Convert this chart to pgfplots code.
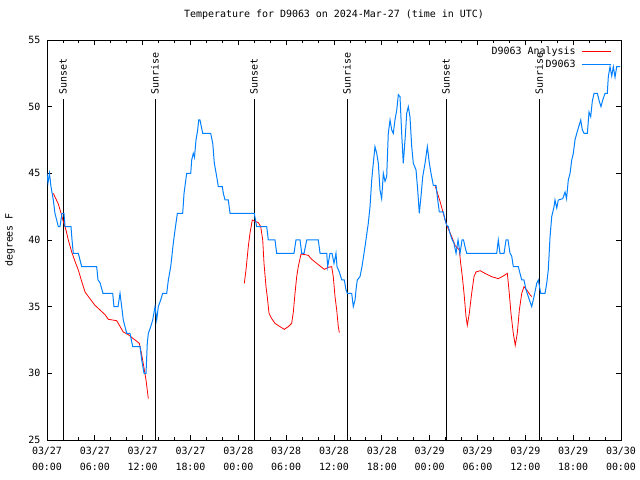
\documentclass[border=0pt]{standalone}
\usepackage{fontspec}
\setmainfont{DejaVu Sans Mono}
\usepackage{pgfplots}
\pgfplotsset{compat=1.18}
\definecolor{obsblue}{RGB}{0,128,255}

\begin{document}
\fontsize{10}{12}\selectfont
\begin{tikzpicture}
\path[use as bounding box] (0,0) rectangle (640bp,480bp);
\begin{axis}[
    at={(47bp,40bp)}, anchor=south west,
    scale only axis, width=574bp, height=400bp,
    xmin=0, xmax=72, ymin=25, ymax=55,
    xtick={0,6,...,72}, minor x tick num=2,
    ytick={25,30,...,55},
    xticklabels={{03/27\\00:00},{03/27\\06:00},{03/27\\12:00},{03/27\\18:00},
                 {03/28\\00:00},{03/28\\06:00},{03/28\\12:00},{03/28\\18:00},
                 {03/29\\00:00},{03/29\\06:00},{03/29\\12:00},{03/29\\18:00},
                 {03/30\\00:00}},
    tick align=inside,
    major tick length=5bp, minor tick length=3bp,
    tick style={black, line width=0.8bp},
    axis line style={line width=0.8bp},
    /pgf/number format/assume math mode=true,
    x tick label style={align=center, font=\fontsize{10}{16}\selectfont, yshift=-4bp},
    y tick label style={font=\fontsize{10}{12}\selectfont, xshift=-3bp},
    title={Temperature for D9063 on 2024-Mar-27 (time in UTC)},
    title style={at={(0.5,1)}, anchor=base, yshift=17bp, font=\fontsize{10}{12}\selectfont},
    ylabel={degrees F},
    ylabel style={at={(axis description cs:-0.0645,0.5)}, anchor=center, font=\fontsize{10}{12}\selectfont},
    legend style={draw=none, fill=none, at={(axis description cs:0.983,0.987)}, anchor=north east,
        font=\fontsize{10}{12}\selectfont, row sep=1bp, column sep=4bp, inner sep=0pt,
        nodes={inner sep=1.5bp}},
    legend plot pos=right,
    legend cell align=right,
    legend image code/.code={\draw[#1] (0bp,0bp) -- (29bp,0bp);},
]
% sunrise / sunset markers
\addplot[black, line width=0.8bp, forget plot] coordinates {(2.01,25) (2.01,50.6)};
\addplot[black, line width=0.8bp, forget plot] coordinates {(13.55,25) (13.55,50.6)};
\addplot[black, line width=0.8bp, forget plot] coordinates {(25.97,25) (25.97,50.6)};
\addplot[black, line width=0.8bp, forget plot] coordinates {(37.63,25) (37.63,50.6)};
\addplot[black, line width=0.8bp, forget plot] coordinates {(50.05,25) (50.05,50.6)};
\addplot[black, line width=0.8bp, forget plot] coordinates {(61.72,25) (61.72,50.6)};
\node[rotate=90, anchor=west, inner sep=0pt] at (axis cs:2.01,50.9) {Sunset};
\node[rotate=90, anchor=west, inner sep=0pt] at (axis cs:13.55,50.9) {Sunrise};
\node[rotate=90, anchor=west, inner sep=0pt] at (axis cs:25.97,50.9) {Sunset};
\node[rotate=90, anchor=west, inner sep=0pt] at (axis cs:37.63,50.9) {Sunrise};
\node[rotate=90, anchor=west, inner sep=0pt] at (axis cs:50.05,50.9) {Sunset};
\node[rotate=90, anchor=west, inner sep=0pt] at (axis cs:61.72,50.9) {Sunrise};

% analysis
\addplot[red, line width=0.8bp] coordinates {
(0.79,43.5) (1.42,42.7) (1.72,42.1) (2.04,41.4) (2.38,40.75) (2.67,40.0)
(3.10,39.1) (3.51,38.4) (3.93,37.75) (4.35,36.9) (4.77,36.1) (5.39,35.6)
(6.02,35.1) (6.65,34.75) (7.28,34.4) (7.69,34.05) (8.74,33.95) (9.57,33.1)
(10.20,32.9) (10.83,32.6) (11.58,32.25) (11.88,31.4) (12.17,30.4) (12.42,29.5)
(12.71,28.1)};
\addlegendentry{D9063 Analysis}
\addplot[red, line width=0.8bp, forget plot] coordinates {
(24.75,36.75) (24.96,37.75) (25.25,39.5) (25.46,40.5) (25.75,41.5) (26.09,41.4)
(26.51,41.3) (26.81,41.0) (27.06,40.0) (27.22,38.25) (27.47,36.5) (27.63,35.75)
(27.85,34.5) (28.19,34.1) (28.60,33.75) (29.23,33.5) (29.77,33.3) (30.27,33.5)
(30.69,33.75) (30.90,34.6) (31.11,36.0) (31.32,37.25) (31.52,38.0) (31.86,38.95)
(32.36,38.9) (32.78,38.85) (33.20,38.55) (33.83,38.25) (34.46,37.95) (34.78,37.8)
(35.29,37.95) (35.71,38.0) (35.91,37.25) (36.13,35.75) (36.34,34.75) (36.54,33.5)
(36.67,33.05)};
\addplot[red, line width=0.8bp, forget plot] coordinates {
(48.67,44.1) (49.30,42.9) (49.71,42.0) (50.14,41.1) (50.77,40.25) (51.18,39.6)
(51.72,39.25) (51.89,38.25) (52.10,37.25) (52.31,36.0) (52.56,34.25) (52.72,33.6)
(52.97,34.5) (53.27,36.0) (53.56,37.25) (53.81,37.6) (54.32,37.7) (54.94,37.5)
(55.78,37.25) (56.61,37.1) (57.24,37.3) (57.74,37.5) (57.95,36.25) (58.20,34.5)
(58.49,33.0) (58.74,32.1) (58.99,33.0) (59.25,34.75) (59.55,36.0) (59.83,36.5)
(60.18,36.25) (60.59,35.9) (60.80,35.75)};

% observations
\addplot[obsblue, line width=1bp] coordinates {
(0,45) (0.13,44.3) (0.31,45) (0.50,44) (0.79,43) (1.00,42) (1.42,41) (1.63,41)
(1.88,42) (2.13,42) (2.26,41) (3.01,41) (3.14,40) (3.30,39) (3.93,39) (4.35,38)
(6.23,38) (6.40,37) (6.65,36.8) (7.02,36) (8.24,36) (8.40,35) (8.91,35) (9.16,36)
(9.37,35) (9.57,34) (10.00,33) (10.41,33) (10.75,32) (11.67,32) (11.88,31)
(12.17,30) (12.42,30) (12.58,32.25) (12.71,33) (13.01,33.5) (13.26,34) (13.55,35)
(13.76,34) (13.96,35) (14.26,35.5) (14.51,36) (15.02,36) (15.22,37) (15.52,38)
(15.84,39.75) (16.06,40.75) (16.35,42) (17.02,42) (17.19,43.5) (17.52,45)
(18.03,45) (18.15,46) (18.35,46.5) (18.50,46.2) (18.69,47.5) (18.90,48.25)
(19.03,49) (19.19,49) (19.53,48) (20.53,48) (20.79,47.25) (20.99,45.75)
(21.29,44.75) (21.49,44) (21.99,44) (22.12,43.5) (22.33,43) (22.74,43) (22.96,42)
(26.00,42) (26.30,41) (27.56,41) (27.76,40) (28.60,40) (28.81,39) (30.98,39)
(31.23,40) (31.74,40) (31.95,39) (32.24,39) (32.58,40) (34.03,40) (34.25,39)
(35.09,39) (35.21,38) (35.50,39) (35.75,39) (36.00,38.25) (36.25,39) (36.38,38)
(36.67,37.6) (36.97,37) (37.29,37) (37.51,36.25) (37.67,36) (38.22,36) (38.42,35)
(38.64,35.5) (38.76,36.25) (38.92,37) (39.26,37.25) (39.51,38) (39.89,39.5)
(40.30,41.25) (40.52,42.5) (40.73,44.5) (40.93,45.75) (41.14,47) (41.36,46.5)
(41.56,45.75) (41.77,43.75) (41.98,43.1) (42.19,45) (42.40,44.4) (42.61,44.75)
(42.81,48) (43.03,49) (43.24,48.25) (43.44,48) (43.65,49) (43.87,49.75)
(44.07,50.9) (44.28,50.75) (44.49,48) (44.69,45.75) (44.91,47.5) (45.12,49.5)
(45.32,50) (45.53,49.25) (45.75,47) (45.95,45.75) (46.29,45.25) (46.50,43.75)
(46.70,42) (46.91,43.25) (47.13,44.75) (47.42,45.75) (47.71,47) (47.96,45.75)
(48.17,45) (48.46,44.1) (48.80,44.1) (48.96,43.25) (49.21,42.1) (49.71,42.1)
(49.93,41.5) (50.14,41.1) (50.34,41) (50.55,40.5) (50.77,40.1) (51.05,39.75)
(51.31,39) (51.56,40) (51.81,39) (52.06,40) (52.25,40) (52.43,39.5) (52.65,39)
(56.41,39) (56.61,40) (56.82,39) (57.33,39) (57.58,40) (57.83,40) (58.08,39)
(58.29,38.8) (58.49,38) (59.12,38) (59.33,37.5) (59.55,37) (59.83,37)
(60.09,36.25) (60.37,35.75) (60.80,35) (61.09,35.75) (61.43,36.75) (61.63,37)
(61.93,36) (62.47,36) (62.68,36.75) (62.88,37.75) (63.10,40.25) (63.31,41.75)
(63.60,42.5) (63.72,43) (63.94,42.4) (64.14,43) (64.69,43.1) (64.98,43.6)
(65.17,43.1) (65.39,44.5) (65.61,45) (65.82,46) (66.02,46.5) (66.23,47.5)
(66.45,48) (66.65,48.4) (66.95,49) (67.15,48.25) (67.36,48) (67.78,48)
(67.99,49.6) (68.20,49.25) (68.40,50.4) (68.62,51) (69.03,51) (69.28,50.4)
(69.49,50) (69.71,50.5) (70.00,51) (70.28,51) (70.41,52.25) (70.62,53)
(70.84,52.3) (71.04,53) (71.25,52.2) (71.46,53) (71.88,53)};
\addlegendentry{D9063}
\end{axis}
\end{tikzpicture}
\end{document}
